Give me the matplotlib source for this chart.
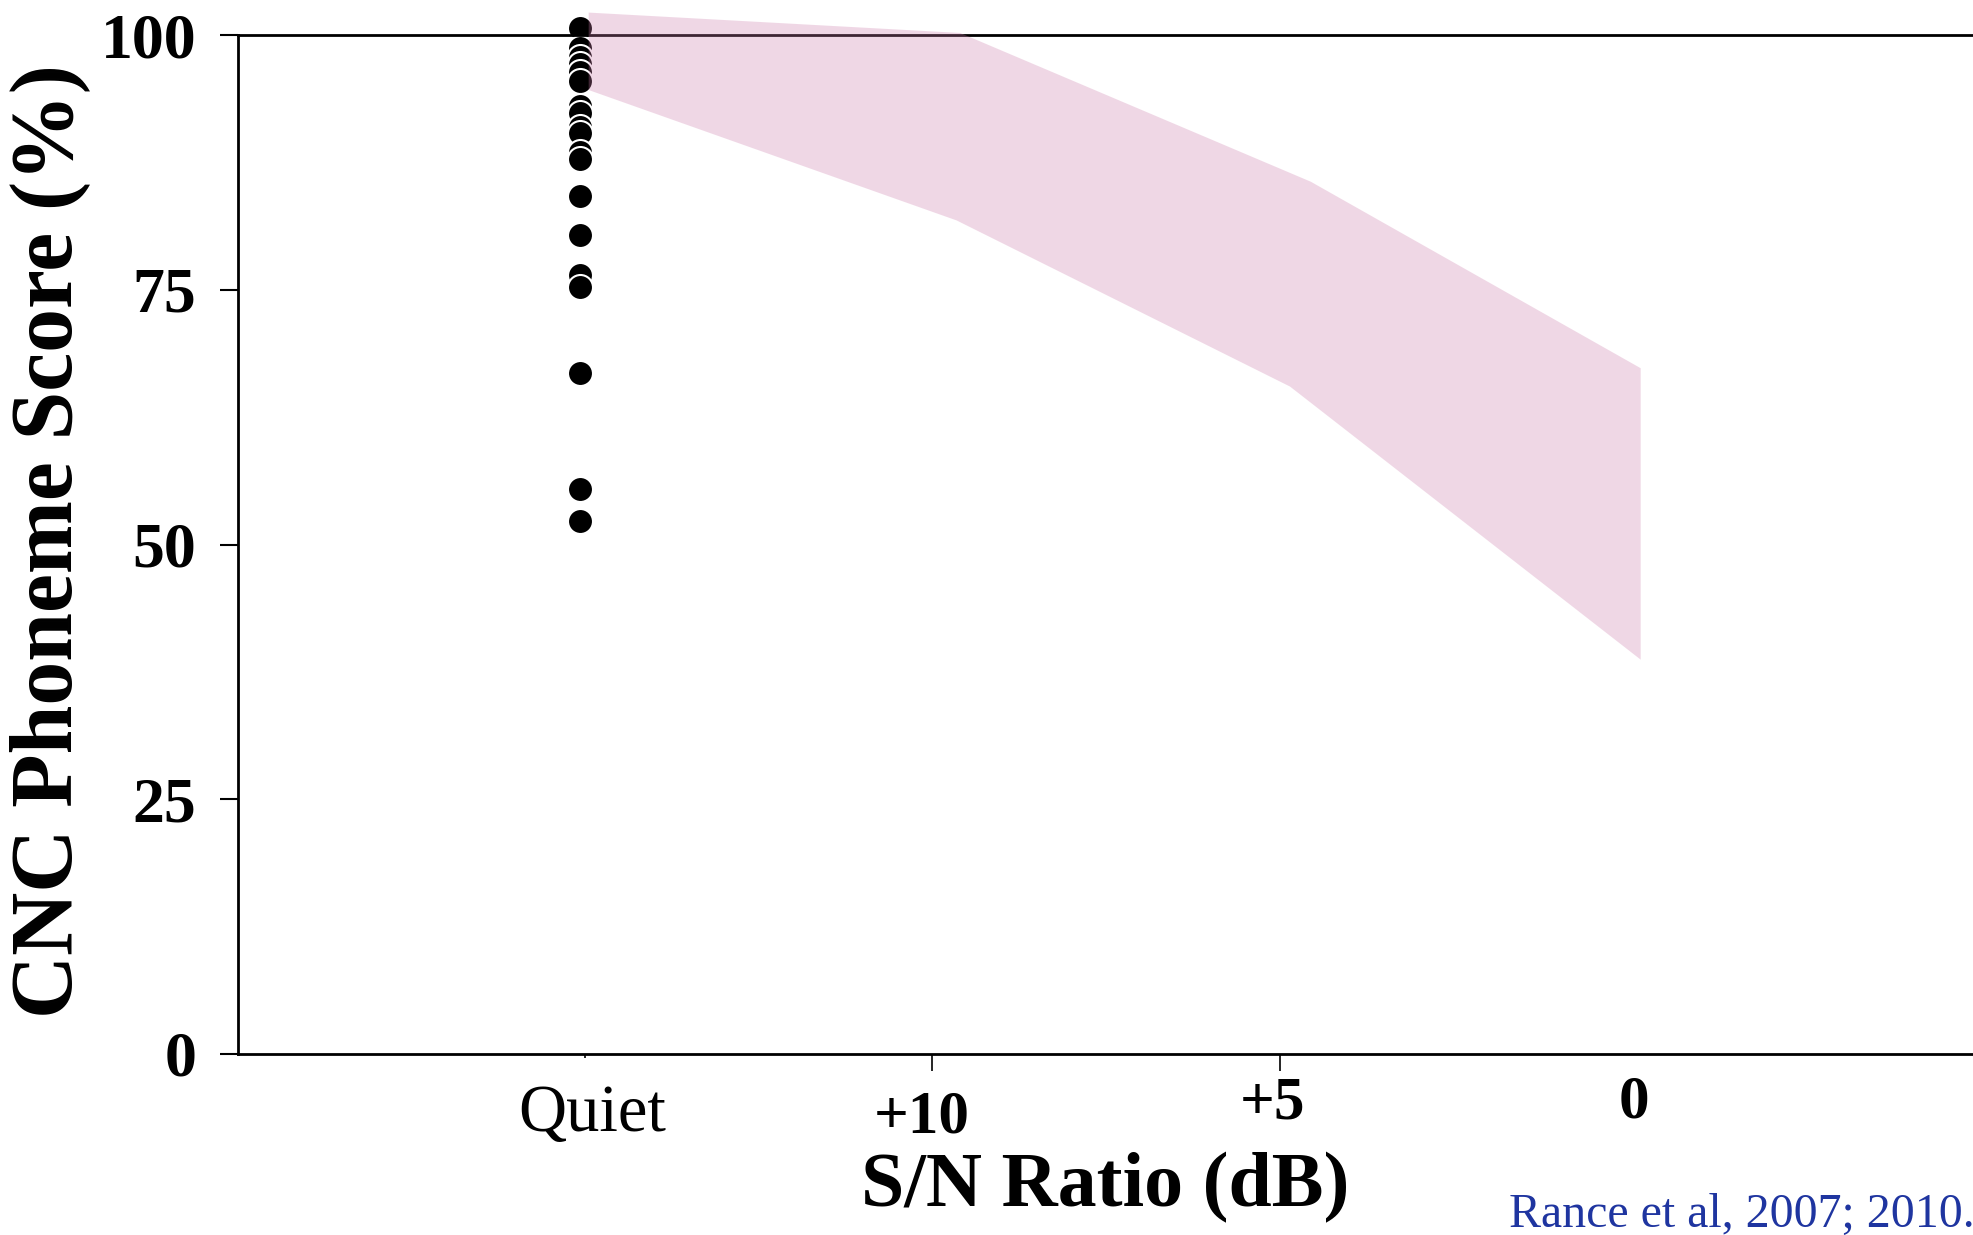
import numpy as np
import matplotlib
matplotlib.use("Agg")
import matplotlib.pyplot as plt
from matplotlib.transforms import blended_transform_factory

# x categories (position index on the axis)
categories = ["Quiet", "+10", "+5", "0"]
cat_pos = [0, 1, 2, 3]

# individual scores in quiet (%)
quiet_x = -0.015
quiet_scores = [100.7, 98.7, 97.8, 97.2, 96.4, 95.5, 93.0, 92.3, 91.0, 90.4,
                88.5, 87.8, 84.2, 80.4, 76.4, 75.3, 66.8, 55.4, 52.3]

# normal range band
band_upper_x = [0.01, 1.08, 2.09, 3.04]
band_upper_y = [102.2, 100.2, 85.6, 67.3]
band_lower_x = [0.01, 1.07, 2.03, 3.04]
band_lower_y = [94.6, 81.8, 65.5, 38.7]

y_ticks = [0, 25, 50, 75, 100]

serif = ["Liberation Serif", "DejaVu Serif"]
plt.rcParams["font.family"] = serif

fig = plt.figure(figsize=(19.74, 12.35), dpi=100)
ax = fig.add_axes([238 / 1974, 1 - 1054 / 1235, 1 - 238 / 1974, 1019 / 1235])

ax.plot([quiet_x] * len(quiet_scores), quiet_scores, "o", color="black",
        ms=18, mec="white", mew=1.5, clip_on=False, zorder=2)

poly_x = band_upper_x + band_lower_x[::-1]
poly_y = band_upper_y + band_lower_y[::-1]
ax.fill(poly_x, poly_y, color="#cd7dac", alpha=0.3, lw=0, clip_on=False, zorder=3)

ax.set_xlim(-1, 4)
ax.set_ylim(0, 100)

for s in ["left", "bottom", "top"]:
    ax.spines[s].set_linewidth(2)
ax.spines["right"].set_visible(False)

ax.set_yticks(y_ticks)
ax.set_yticklabels([str(v) for v in y_ticks], fontsize=46, fontweight="bold")
ax.tick_params(axis="y", length=13, width=1.5, pad=17)

ax.set_xticks(cat_pos)
ax.set_xticklabels([])
ax.tick_params(axis="x", length=12, width=1.2)
xt = ax.xaxis.get_major_ticks()
xt[0].tick1line.set_markersize(3)
xt[3].tick1line.set_visible(False)

# category labels placed below axis, slightly uneven as in source
lab_x = [0.02, 0.97, 1.98, 3.02]
lab_y = [-0.059, -0.062, -0.049, -0.048]
lab_w = ["normal", "bold", "bold", "bold"]
lab_s = [48, 44, 44, 44]
trans = blended_transform_factory(ax.transData, ax.transAxes)
for c, x, y, w, s in zip(categories, lab_x, lab_y, lab_w, lab_s):
    ax.text(x, y, c, transform=trans, ha="center", va="center",
            fontsize=s, fontweight=w)

fig.text(50 / 1974, 1 - 541 / 1235, "CNC Phoneme Score (%)", rotation=90,
         ha="center", va="center", fontsize=63, fontweight="bold")
fig.text(1105 / 1974, 1 - 1188 / 1235, "S/N Ratio (dB)", ha="center",
         va="center", fontsize=56, fontweight="bold")
fig.text(1509 / 1974, 8 / 1235, "Rance et al, 2007; 2010.", ha="left",
         va="baseline", fontsize=34.5, color="#1f35a0")

fig.savefig("out.png", dpi=100)
